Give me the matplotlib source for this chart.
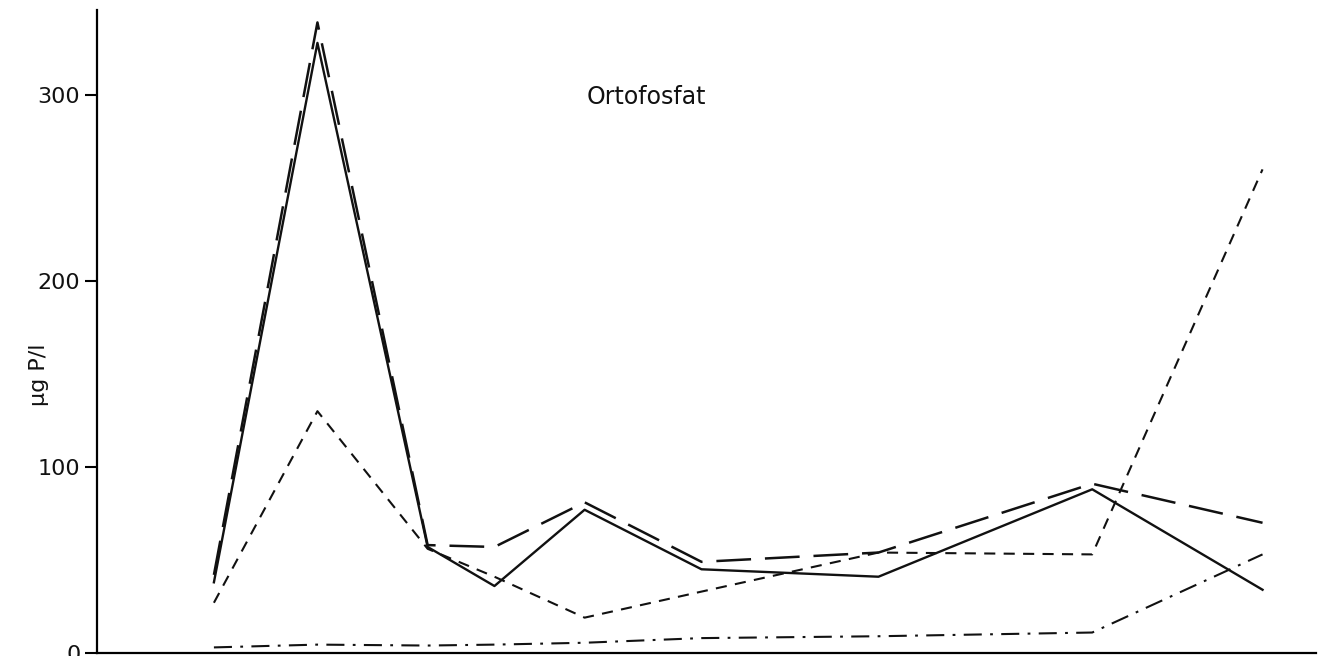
import matplotlib
matplotlib.use('Agg')
import matplotlib.pyplot as plt
from matplotlib.transforms import blended_transform_factory

# sampling days (no x labels in the original)
days = [35, 66, 99, 119, 146, 181, 234, 298, 349]

# ortofosfat, ug P/l, four stations
st_solid = [38, 328, 57, 36, 77, 45, 41, 88, 34]
st_longdash = [42, 339, 58, 57, 81, 49, 54, 91, 70]
st_shortdash = [27, 130, 56, 41, 19, 33, 54, 53, 260]
st_dashdot = [3, 4.5, 4, 4.5, 5.5, 8, 9, 11, 53]

yticks = [0, 100, 200, 300]

plt.rcParams['lines.scale_dashes'] = False
plt.rcParams['font.family'] = ['DejaVu Sans']

fig = plt.figure(figsize=(13.42, 6.56), dpi=100)
ax = fig.add_axes([0.0723, 0.0046, 0.9083, 0.9802])

ax.plot(days, st_solid, color='#111111', lw=1.7, ls='-')
ax.plot(days, st_longdash, color='#111111', lw=1.8, dashes=(25, 10))
ax.plot(days, st_shortdash, color='#111111', lw=1.5, dashes=(8, 6))
ax.plot(days, st_dashdot, color='#111111', lw=1.5, dashes=(13, 6, 2, 6))

ax.set_xlim(0, 365)
ax.set_ylim(0, 345.7)
ax.set_yticks(yticks)
ax.set_yticklabels([str(t) for t in yticks], fontsize=16, color='#111111')
ax.tick_params(axis='y', direction='out', length=9, width=1.5, pad=3)
ax.set_xticks([])

for s in ['top', 'right']:
    ax.spines[s].set_visible(False)
ax.spines['left'].set_linewidth(1.6)
ax.spines['bottom'].set_linewidth(1.6)

ax.set_ylabel('µg P/l', fontsize=16, color='#111111')
ax.yaxis.set_label_coords(-0.039, 0.432)

trans = blended_transform_factory(ax.transAxes, ax.transData)
ax.text(0.451, 299, 'Ortofosfat', transform=trans,
        ha='center', va='center', fontsize=17, color='#111111')

fig.savefig('out.png', dpi=100)
